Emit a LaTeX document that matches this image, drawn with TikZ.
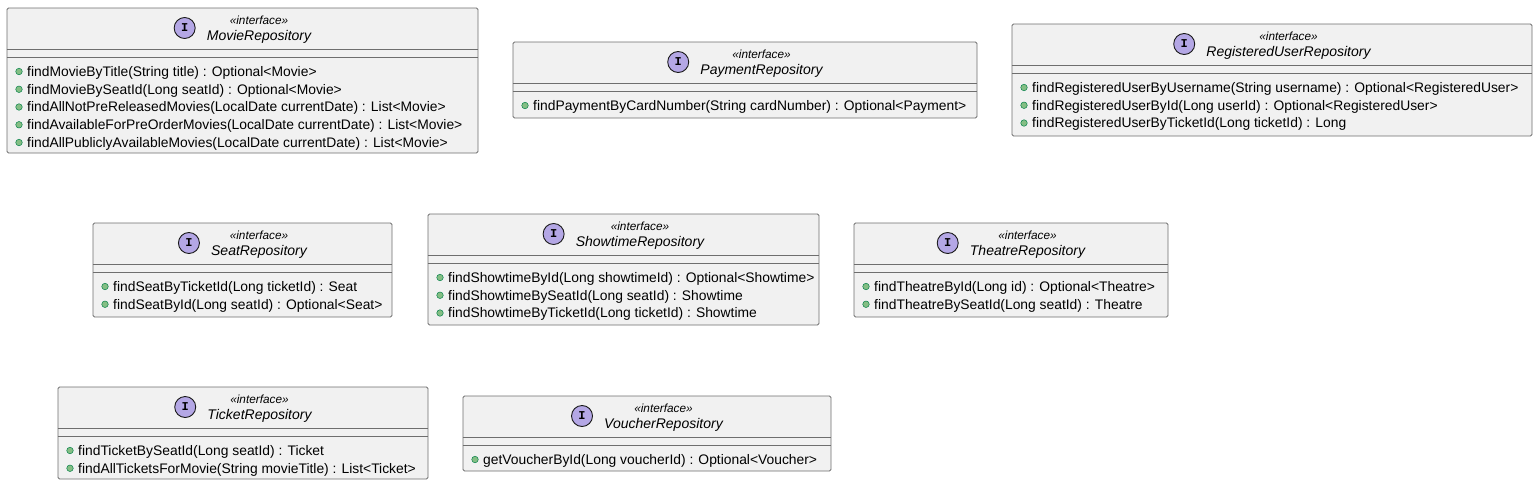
\documentclass[tikz,border=0pt]{standalone}
\usepackage{fontspec}
\setmainfont{Liberation Sans}
\newfontfamily\iconfont{Liberation Mono}
\usetikzlibrary{fit}
\definecolor{boxfill}{HTML}{F1F1F1}
\definecolor{boxline}{HTML}{6E6E6E}
\definecolor{iconfill}{HTML}{B4A7E5}
\definecolor{iconline}{HTML}{181818}
\definecolor{dotfill}{HTML}{84BE84}
\definecolor{dotline}{HTML}{038048}
\tikzset{
  box/.style={draw=boxline, fill=boxfill, line width=0.8pt, rounded corners=1.5pt, inner sep=0pt},
  sepline/.style={draw=boxline, line width=0.8pt},
  stereo/.style={inner sep=0pt, font=\fontsize{11.8}{13}\selectfont\itshape},
  tname/.style={inner sep=0pt, font=\fontsize{14}{16}\selectfont\itshape},
  icon/.style={circle, draw=iconline, fill=iconfill, line width=0.9pt, minimum size=21pt, inner sep=0pt, font=\fontsize{12}{12}\selectfont\iconfont\bfseries},
  bullet/.style={circle, draw=dotline, fill=dotfill, line width=0.5pt, minimum size=6.5pt, inner sep=0pt},
  member/.style={inner sep=0pt, anchor=base west, font=\fontsize{13.85}{16}\selectfont}
}
% #1 id, #2 left, #3 top, #4 right, #5 bottom, #6 title, #7 members
\newcommand\repobox[7]{%
  \pgfmathsetmacro\cxv{(#2+#4)/2}%
  \pgfmathsetmacro\sepa{#3+41.5}%
  \pgfmathsetmacro\sepb{#3+49.5}%
  \coordinate (#1-nw) at (#2,#3);
  \coordinate (#1-se) at (#4,#5);
  \node[box, fit=(#1-nw)(#1-se)] (#1) {};
  \draw[sepline] (#1.west |- 0,\sepa) -- (#1.east |- 0,\sepa);
  \draw[sepline] (#1.west |- 0,\sepb) -- (#1.east |- 0,\sepb);
  \node[stereo] (#1-s) at ({\cxv+16.5},{#3+12}) {«interface»};
  \node[tname] (#1-n) at ({\cxv+16.5},{#3+29}) {#6};
  \node[icon] (#1-i) at ([xshift=-22pt]#1-n.west |- 0,{#3+20}) {I};
  \foreach \m [count=\i] in {#7} {
    \node[bullet] (#1-b\i) at ({#2+12},{\sepb+14+17.75*(\i-1)}) {};
    \node[member] (#1-m\i) at ({#2+20},{\sepb+18.8+17.75*(\i-1)}) {\m};
  }
}
\begin{document}
\begin{tikzpicture}[x=1pt, y=-1pt]
\useasboundingbox (0,0) rectangle (1538,485);
\repobox{movie}{7}{8}{478}{153}{MovieRepository}{
  findMovieByTitle(String title) : Optional<Movie>,
  findMovieBySeatId(Long seatId) : Optional<Movie>,
  findAllNotPreReleasedMovies(LocalDate currentDate) : List<Movie>,
  findAvailableForPreOrderMovies(LocalDate currentDate) : List<Movie>,
  findAllPubliclyAvailableMovies(LocalDate currentDate) : List<Movie>}
\repobox{payment}{513}{42}{977}{118}{PaymentRepository}{
  findPaymentByCardNumber(String cardNumber) : Optional<Payment>}
\repobox{reguser}{1012}{24}{1532}{136}{RegisteredUserRepository}{
  findRegisteredUserByUsername(String username) : Optional<RegisteredUser>,
  findRegisteredUserById(Long userId) : Optional<RegisteredUser>,
  findRegisteredUserByTicketId(Long ticketId) : Long}
\repobox{seat}{93}{223}{392}{317}{SeatRepository}{
  findSeatByTicketId(Long ticketId) : Seat,
  findSeatById(Long seatId) : Optional<Seat>}
\repobox{showtime}{428}{214}{819}{325}{ShowtimeRepository}{
  findShowtimeById(Long showtimeId) : Optional<Showtime>,
  findShowtimeBySeatId(Long seatId) : Showtime,
  findShowtimeByTicketId(Long ticketId) : Showtime}
\repobox{theatre}{854}{223}{1168}{317}{TheatreRepository}{
  findTheatreById(Long id) : Optional<Theatre>,
  findTheatreBySeatId(Long seatId) : Theatre}
\repobox{ticket}{58}{387}{428}{479}{TicketRepository}{
  findTicketBySeatId(Long seatId) : Ticket,
  findAllTicketsForMovie(String movieTitle) : List<Ticket>}
\repobox{voucher}{463}{396}{831}{471}{VoucherRepository}{
  getVoucherById(Long voucherId) : Optional<Voucher>}
\end{tikzpicture}
\end{document}
